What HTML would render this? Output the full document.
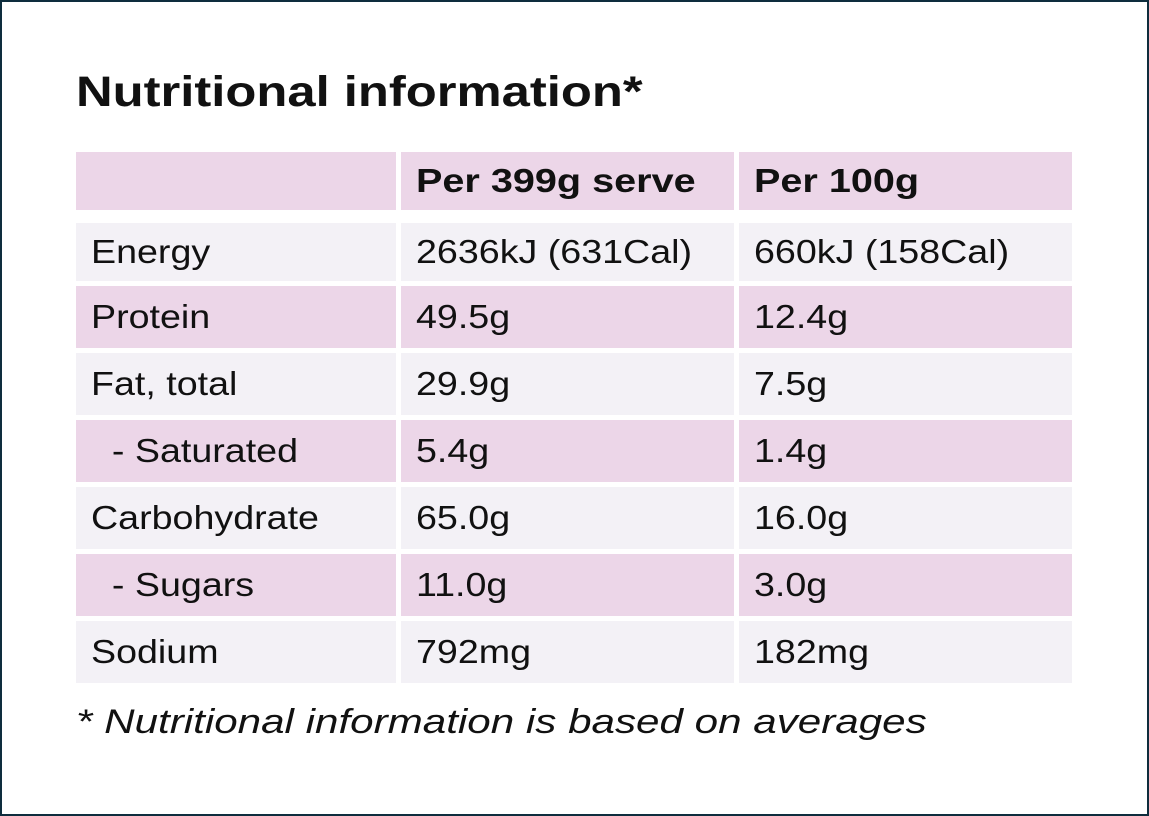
<!DOCTYPE html>
<html><head><meta charset="utf-8"><style>
*{margin:0;padding:0;box-sizing:border-box}
body{width:1149px;height:816px;background:#fff;position:relative;overflow:hidden;font-family:"Liberation Sans",sans-serif;color:#111}
.frame{position:absolute;left:0;top:0;width:1149px;height:816px;border:2px solid #0e2d3d}
h1{position:absolute;left:76px;top:68px;font-size:43px;font-weight:bold;transform:scaleX(1.18);transform-origin:left;white-space:nowrap}
.c{position:absolute;font-size:33px;padding-left:15px;display:flex;align-items:center;white-space:nowrap}
.c span{display:inline-block;transform:scaleX(1.14);transform-origin:left}
.c.b span{transform:scaleX(1.2)}
.p{background:#ecd6e8}.l{background:#f3f1f6}
.b{font-weight:bold}
.foot{position:absolute;left:76px;top:703px;font-size:34px;font-style:italic;transform:scaleX(1.24);transform-origin:left;white-space:nowrap}
</style></head><body>
<div class="frame"></div>
<h1>Nutritional information*</h1>
<div class="c p" style="left:76px;top:152px;width:320px;height:58px"></div>
<div class="c p b" style="left:401px;top:152px;width:333px;height:58px"><span>Per 399g serve</span></div>
<div class="c p b" style="left:739px;top:152px;width:333px;height:58px"><span>Per 100g</span></div>

<div class="c l" style="left:76px;top:223px;width:320px;height:58px"><span>Energy</span></div>
<div class="c l" style="left:401px;top:223px;width:333px;height:58px"><span>2636kJ (631Cal)</span></div>
<div class="c l" style="left:739px;top:223px;width:333px;height:58px"><span>660kJ (158Cal)</span></div>

<div class="c p" style="left:76px;top:286px;width:320px;height:62px"><span>Protein</span></div>
<div class="c p" style="left:401px;top:286px;width:333px;height:62px"><span>49.5g</span></div>
<div class="c p" style="left:739px;top:286px;width:333px;height:62px"><span>12.4g</span></div>

<div class="c l" style="left:76px;top:353px;width:320px;height:62px"><span>Fat, total</span></div>
<div class="c l" style="left:401px;top:353px;width:333px;height:62px"><span>29.9g</span></div>
<div class="c l" style="left:739px;top:353px;width:333px;height:62px"><span>7.5g</span></div>

<div class="c p" style="left:76px;top:420px;width:320px;height:62px"><span>&nbsp; - Saturated</span></div>
<div class="c p" style="left:401px;top:420px;width:333px;height:62px"><span>5.4g</span></div>
<div class="c p" style="left:739px;top:420px;width:333px;height:62px"><span>1.4g</span></div>

<div class="c l" style="left:76px;top:487px;width:320px;height:62px"><span>Carbohydrate</span></div>
<div class="c l" style="left:401px;top:487px;width:333px;height:62px"><span>65.0g</span></div>
<div class="c l" style="left:739px;top:487px;width:333px;height:62px"><span>16.0g</span></div>

<div class="c p" style="left:76px;top:554px;width:320px;height:62px"><span>&nbsp; - Sugars</span></div>
<div class="c p" style="left:401px;top:554px;width:333px;height:62px"><span>11.0g</span></div>
<div class="c p" style="left:739px;top:554px;width:333px;height:62px"><span>3.0g</span></div>

<div class="c l" style="left:76px;top:621px;width:320px;height:62px"><span>Sodium</span></div>
<div class="c l" style="left:401px;top:621px;width:333px;height:62px"><span>792mg</span></div>
<div class="c l" style="left:739px;top:621px;width:333px;height:62px"><span>182mg</span></div>

<div class="foot">* Nutritional information is based on averages</div>
</body></html>
